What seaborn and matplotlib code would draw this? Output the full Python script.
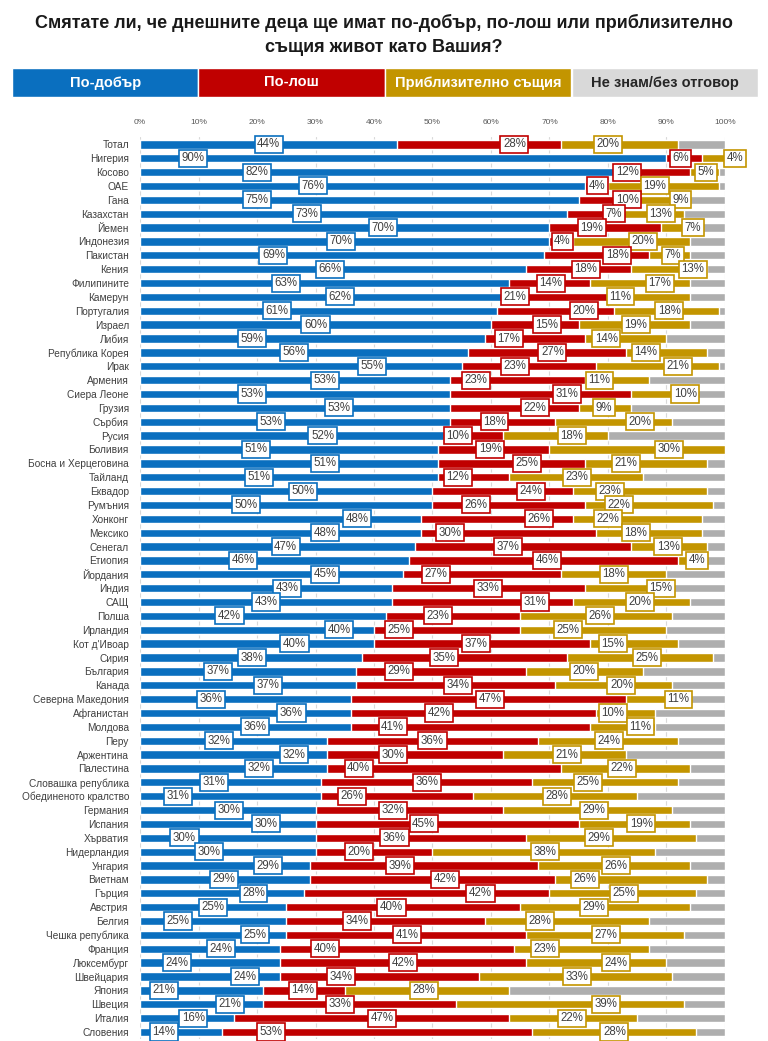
import matplotlib
matplotlib.use("Agg")
import matplotlib.pyplot as plt
import pandas as pd
import seaborn as sns
from matplotlib.patches import Rectangle

# ---------------------------------------------------------------
# Data
# ---------------------------------------------------------------
countries = [
    "Тотал", "Нигерия", "Косово", "ОАЕ", "Гана", "Казахстан", "Йемен", "Индонезия",
    "Пакистан", "Кения", "Филипините", "Камерун", "Португалия", "Израел", "Либия",
    "Република Корея", "Ирак", "Армения", "Сиера Леоне", "Грузия", "Сърбия", "Русия",
    "Боливия", "Босна и Херцеговина", "Тайланд", "Еквадор", "Румъния", "Хонконг",
    "Мексико", "Сенегал", "Етиопия", "Йордания", "Индия", "САЩ", "Полша", "Ирландия",
    "Кот д'Ивоар", "Сирия", "България", "Канада", "Северна Македония", "Афганистан",
    "Молдова", "Перу", "Аржентина", "Палестина", "Словашка република",
    "Обединеното кралство", "Германия", "Испания", "Хърватия", "Нидерландия",
    "Унгария", "Виетнам", "Гърция", "Австрия", "Белгия", "Чешка република", "Франция",
    "Люксембург", "Швейцария", "Япония", "Швеция", "Италия", "Словения",
]
better = [44, 90, 82, 76, 75, 73, 70, 70, 69, 66, 63, 62, 61, 60, 59, 56, 55, 53, 53, 53,
          53, 52, 51, 51, 51, 50, 50, 48, 48, 47, 46, 45, 43, 43, 42, 40, 40, 38, 37, 37,
          36, 36, 36, 32, 32, 32, 31, 31, 30, 30, 30, 30, 29, 29, 28, 25, 25, 25, 24, 24,
          24, 21, 21, 16, 14]
worse = [28, 6, 12, 4, 10, 7, 19, 4, 18, 18, 14, 21, 20, 15, 17, 27, 23, 23, 31, 22,
         18, 10, 19, 25, 12, 24, 26, 26, 30, 37, 46, 27, 33, 31, 23, 25, 37, 35, 29, 34,
         47, 42, 41, 36, 30, 40, 36, 26, 32, 45, 36, 20, 39, 42, 42, 40, 34, 41, 40, 42,
         34, 14, 33, 47, 53]
same = [20, 4, 5, 19, 9, 13, 7, 20, 7, 13, 17, 11, 18, 19, 14, 14, 21, 11, 10, 9,
        20, 18, 30, 21, 23, 23, 22, 22, 18, 13, 4, 18, 15, 20, 26, 25, 15, 25, 20, 20,
        11, 10, 11, 24, 21, 22, 25, 28, 29, 19, 29, 38, 26, 26, 25, 29, 28, 27, 23, 24,
        33, 28, 39, 22, 28]
legend_labels = ["По-добър", "По-лош", "Приблизително същия", "Не знам/без отговор"]

# where the (hand-placed) value boxes sit along the x axis, in %
better_lx = [22, 9, 20, 29.5, 20, 28.5, 41.5, 34.3, 22.8, 32.5, 24.9, 34.2, 23.4, 30, 19.2,
             26.3, 39.7, 31.6, 19.2, 34, 22.4, 31.2, 19.8, 31.6, 20.3, 27.8, 18.1, 37.1,
             31.6, 24.9, 17.6, 31.6, 25.1, 21.5, 15.3, 34, 26.4, 19.2, 13.3, 21.9, 12.2,
             25.9, 19.7, 13.5, 26.4, 20.4, 12.7, 6.5, 15.2, 21.5, 7.6, 11.8, 21.9, 14.3,
             19.4, 12.4, 6.5, 19.6, 13.9, 6.3, 17.9, 4.1, 15.4, 9.1, 4.1]
worse_lx = [64, 92.4, 83.3, 78.2, 83.3, 81, 77.2, 72.2, 81.6, 76.2, 70.2, 64.1, 75.9, 69.5,
            63, 70.5, 64.1, 57.4, 73, 67.5, 60.6, 54.3, 59.9, 66.1, 54.3, 66.9, 57.4, 68.2,
            53, 62.9, 69.6, 50.6, 59.5, 67.5, 50.9, 44.3, 57.4, 51.9, 44.3, 54.3, 59.9,
            51.1, 43.2, 50, 43.2, 37.4, 49, 36.3, 43.2, 48.5, 43.5, 37.4, 44.5, 52.2, 58.2,
            43, 37.1, 45.6, 31.6, 45, 34.4, 27.8, 34.2, 41.4, 22.4]
same_lx = [80, 101.7, 96.8, 88, 92.4, 89, 94.5, 86, 91.1, 94.5, 88.9, 82.1, 90.5, 84.8,
           79.7, 86.5, 92, 78.5, 93.2, 79.3, 85.5, 73.8, 90.5, 83.1, 74.7, 80.3, 81.9, 80,
           84.8, 90.3, 95.2, 81, 89, 85.5, 78.7, 73.2, 80.8, 86.7, 75.9, 82.3, 92, 80.8,
           85.5, 80.2, 73, 82.4, 76.6, 71.3, 77.6, 85.7, 78.5, 69.2, 81.3, 76, 82.7, 77.6,
           68.4, 79.7, 69.2, 81.4, 74.7, 48.5, 79.6, 73.8, 81.1]

BLUE = "#0A6FBF"
RED = "#C00000"
GOLD = "#C39500"
GREY = "#AEAEAE"

df = pd.DataFrame({"country": countries, "better": better, "worse": worse, "same": same})
df["c_worse"] = df["better"] + df["worse"]
df["c_same"] = df["c_worse"] + df["same"]
df["c_all"] = 100

sns.set_theme(style="white")
plt.rcParams["font.family"] = ["Liberation Sans Narrow", "Liberation Sans", "DejaVu Sans"]

fig = plt.figure(figsize=(7.68, 10.41), dpi=100)
ax = fig.add_axes([0.1823, 0.002, 0.7617, 0.866])

# stacked bars: draw cumulative totals from the back to the front
for col, colr in [("c_all", GREY), ("c_same", GOLD), ("c_worse", RED), ("better", BLUE)]:
    sns.barplot(data=df, x=col, y="country", color=colr, width=0.6, orient="h",
                saturation=1, ax=ax, zorder=2)

ax.set_xlim(0, 100)
ax.set_ylim(len(countries) - 0.5, -0.5)
ax.set_xlabel("")
ax.set_ylabel("")
for s in ax.spines.values():
    s.set_visible(False)
ax.set_xticks(range(0, 101, 10))
ax.set_xticklabels([f"{t}%" for t in range(0, 101, 10)])
ax.xaxis.tick_top()
ax.tick_params(axis="x", length=0, pad=8, labelsize=6, labelcolor="#595959")
ax.tick_params(axis="y", length=0, pad=8, labelsize=7.3, labelcolor="#404040")
ax.grid(axis="x", color="#D9D9D9", linewidth=0.8, zorder=0)
ax.set_axisbelow(True)

# value boxes
for i in range(len(countries)):
    for val, lx, colr in [(better[i], better_lx[i], BLUE), (worse[i], worse_lx[i], RED),
                          (same[i], same_lx[i], GOLD)]:
        ax.text(lx, i, f"{val}%", ha="center", va="center", fontsize=8.3, color="#404040",
                zorder=5, clip_on=False,
                bbox=dict(boxstyle="square,pad=0.22", fc="white", ec=colr, lw=1.2))

# legend strip across the top
leg_colors = [BLUE, RED, GOLD, "#D9D9D9"]
leg_text = ["white", "white", "white", "#262626"]
x0, w = 12 / 768, 186.5 / 768
for k, (lab, fc, tc) in enumerate(zip(legend_labels, leg_colors, leg_text)):
    fig.patches.append(Rectangle((x0 + k * w, 1 - 97 / 1041), w, 29 / 1041,
                                 transform=fig.transFigure, facecolor=fc,
                                 edgecolor="white", linewidth=1))
    fig.text(x0 + k * w + w / 2, 1 - 82.5 / 1041, lab, ha="center", va="center",
             fontsize=10.5, fontweight="bold", color=tc)

fig.text(0.5, 1 - 23 / 1041,
         "Смятате ли, че днешните деца ще имат по-добър, по-лош или приблизително",
         ha="center", va="center", fontsize=13, fontweight="bold", color="#1a1a1a")
fig.text(0.5, 1 - 47 / 1041, "същия живот като Вашия?",
         ha="center", va="center", fontsize=13, fontweight="bold", color="#1a1a1a")

fig.savefig("out.png", dpi=100)
